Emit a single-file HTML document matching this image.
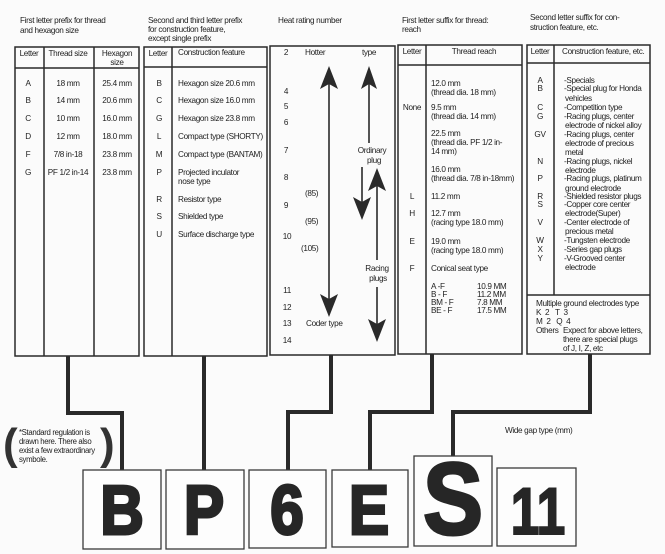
<!DOCTYPE html>
<html><head><meta charset="utf-8"><style>
html,body{margin:0;padding:0;background:#fbfbfb;}
svg{display:block;}
text{font-family:"Liberation Sans",sans-serif;font-size:8.2px;fill:#222;letter-spacing:-0.35px;}
.c{text-anchor:middle;}
.big{font-weight:bold;font-size:71px;fill:#262626;text-anchor:middle;stroke:#262626;stroke-width:3;letter-spacing:0;}
</style></head><body>
<svg width="665" height="554" viewBox="0 0 665 554" xmlns="http://www.w3.org/2000/svg">
<rect width="665" height="554" fill="#fbfbfb"/>
<g fill="none" stroke="#2a2a2a" stroke-width="1.5">
<rect x="15" y="47" width="124" height="309"/>
<line x1="15" y1="68" x2="139" y2="68"/><line x1="44" y1="47" x2="44" y2="356"/><line x1="94" y1="47" x2="94" y2="356"/>
<rect x="144" y="47" width="123" height="309"/>
<line x1="144" y1="67" x2="267" y2="67"/><line x1="172" y1="47" x2="172" y2="356"/>
<rect x="270" y="46" width="125" height="309"/>
<rect x="398" y="45" width="124" height="309"/>
<line x1="398" y1="65" x2="522" y2="65"/><line x1="426" y1="45" x2="426" y2="354"/>
<rect x="527" y="45" width="123" height="309"/>
<line x1="527" y1="63" x2="650" y2="63"/><line x1="554" y1="45" x2="554" y2="295"/><line x1="527" y1="295" x2="650" y2="295"/>
</g>
<g fill="none" stroke="#2a2a2a" stroke-width="4">
<polyline points="68,356 68,413 122,413 122,470"/>
<polyline points="204,356 204,470"/>
<polyline points="331,355 331,412 288,412 288,470"/>
<polyline points="432,354 432,412 370,412 370,470"/>
<polyline points="590,354 590,412 453,412 453,457"/>
</g>
<g fill="#fdfdfd" stroke="#3a3a3a" stroke-width="1.3">
<rect x="83" y="470" width="78" height="79"/>
<rect x="166" y="470" width="78" height="79"/>
<rect x="249" y="470" width="77" height="78"/>
<rect x="332" y="470" width="76" height="77"/>
<rect x="414" y="456" width="78" height="90"/>
<rect x="497" y="468" width="79" height="78"/>
</g>
<text class="big" transform="translate(122,534) scale(0.85,0.98)">B</text>
<text class="big" transform="translate(204,534) scale(0.85,0.98)">P</text>
<text class="big" transform="translate(287,534) scale(0.85,0.98)">6</text>
<text class="big" transform="translate(369,534) scale(0.85,0.98)">E</text>
<text class="big" style="font-size:102px" transform="translate(453,534) scale(0.88,1)">S</text>
<text class="big" style="font-size:66px;stroke-width:2" transform="translate(538,534) scale(0.78,1)">11</text>
<text x="3" y="459" style="font-size:44px;font-weight:bold;fill:#333;letter-spacing:0">(</text>
<text x="100" y="459" style="font-size:44px;font-weight:bold;fill:#333;letter-spacing:0">)</text>
<text x="19" y="435" style="font-size:7.8px">*Standard regulation is</text>
<text x="19" y="444" style="font-size:7.8px">drawn here. There also</text>
<text x="19" y="453" style="font-size:7.8px">exist a few extraordinary</text>
<text x="19" y="462" style="font-size:7.8px">symbole.</text>
<text x="505" y="433">Wide gap type (mm)</text>
<text x="20" y="23">First letter prefix for thread</text>
<text x="20" y="33">and hexagon size</text>
<text x="148" y="23">Second and third letter prefix</text>
<text x="148" y="32">for construction feature,</text>
<text x="148" y="41">except single prefix</text>
<text x="278" y="23">Heat rating number</text>
<text x="402" y="23">First letter suffix for thread:</text>
<text x="402" y="32">reach</text>
<text x="530" y="20">Second letter suffix for con-</text>
<text x="530" y="30">struction feature, etc.</text>
<text class="c" x="29" y="56">Letter</text><text class="c" x="68" y="56">Thread size</text>
<text class="c" x="117" y="56">Hexagon</text><text class="c" x="117" y="65">size</text>
<text class="c" x="28" y="86">A</text><text class="c" x="68" y="86">18 mm</text><text class="c" x="117" y="86">25.4 mm</text>
<text class="c" x="28" y="103">B</text><text class="c" x="68" y="103">14 mm</text><text class="c" x="117" y="103">20.6 mm</text>
<text class="c" x="28" y="121">C</text><text class="c" x="68" y="121">10 mm</text><text class="c" x="117" y="121">16.0 mm</text>
<text class="c" x="28" y="139">D</text><text class="c" x="68" y="139">12 mm</text><text class="c" x="117" y="139">18.0 mm</text>
<text class="c" x="28" y="157">F</text><text class="c" x="68" y="157">7/8 in-18</text><text class="c" x="117" y="157">23.8 mm</text>
<text class="c" x="28" y="175">G</text><text class="c" x="68" y="175">PF 1/2 in-14</text><text class="c" x="117" y="175">23.8 mm</text>
<text class="c" x="158" y="56">Letter</text><text x="178" y="55">Construction feature</text>
<text class="c" x="159" y="86">B</text><text x="178" y="86">Hexagon size 20.6 mm</text>
<text class="c" x="159" y="103">C</text><text x="178" y="103">Hexagon size 16.0 mm</text>
<text class="c" x="159" y="121">G</text><text x="178" y="121">Hexagon size 23.8 mm</text>
<text class="c" x="159" y="139">L</text><text x="178" y="139">Compact type (SHORTY)</text>
<text class="c" x="159" y="157">M</text><text x="178" y="157">Compact type (BANTAM)</text>
<text class="c" x="159" y="175">P</text><text x="178" y="175">Projected inculator</text><text x="178" y="184">nose type</text>
<text class="c" x="159" y="202">R</text><text x="178" y="202">Resistor type</text>
<text class="c" x="159" y="219">S</text><text x="178" y="219">Shielded type</text>
<text class="c" x="159" y="237">U</text><text x="178" y="237">Surface discharge type</text>
<text class="c" x="286" y="55">2</text><text x="305" y="55">Hotter</text><text x="362" y="55">type</text>
<text class="c" x="286" y="94">4</text><text class="c" x="286" y="109">5</text><text class="c" x="286" y="125">6</text>
<text class="c" x="286" y="153">7</text><text class="c" x="286" y="180">8</text><text class="c" x="286" y="208">9</text>
<text class="c" x="287" y="239">10</text><text class="c" x="287" y="293">11</text><text class="c" x="287" y="310">12</text>
<text class="c" x="287" y="326">13</text><text class="c" x="287" y="343">14</text>
<text x="305" y="196">(85)</text><text x="305" y="224">(95)</text><text x="301" y="251">(105)</text>
<text x="306" y="326">Coder type</text>
<text class="c" x="372" y="153">Ordinary</text><text class="c" x="374" y="163">plug</text>
<text class="c" x="377" y="271">Racing</text><text class="c" x="378" y="281">plugs</text>
<g stroke="#2a2a2a" stroke-width="1.6">
<line x1="329" y1="80" x2="329" y2="303"/>
<line x1="369" y1="80" x2="369" y2="143"/>
<line x1="362" y1="167" x2="362" y2="206"/>
<line x1="377" y1="182" x2="377" y2="260"/>
<line x1="377" y1="287" x2="377" y2="328"/>
</g>
<g fill="#2a2a2a">
<polygon points="329,66 320,89 329,84 338,89"/>
<polygon points="329,317 320,294 329,299 338,294"/>
<polygon points="369,66 361,89 369,84 377,89"/>
<polygon points="362,220 353,197 362,202 371,197"/>
<polygon points="377,168 368,191 377,186 386,191"/>
<polygon points="377,342 368,319 377,324 386,319"/>
</g>
<text class="c" x="412" y="54">Letter</text><text class="c" x="474" y="54">Thread reach</text>
<text x="431" y="86">12.0 mm</text><text x="431" y="95">(thread dia. 18 mm)</text>
<text class="c" x="412" y="110">None</text>
<text x="431" y="110">9.5 mm</text><text x="431" y="119">(thread dia. 14 mm)</text>
<text x="431" y="136">22.5 mm</text><text x="431" y="145">(thread dia. PF 1/2 in-</text><text x="431" y="154">14 mm)</text>
<text x="431" y="172">16.0 mm</text><text x="431" y="181">(thread dia. 7/8 in-18mm)</text>
<text class="c" x="412" y="199">L</text><text x="431" y="199">11.2 mm</text>
<text class="c" x="412" y="216">H</text><text x="431" y="216">12.7 mm</text><text x="431" y="225">(racing type 18.0 mm)</text>
<text class="c" x="412" y="244">E</text><text x="431" y="244">19.0 mm</text><text x="431" y="253">(racing type 18.0 mm)</text>
<text class="c" x="412" y="271">F</text><text x="431" y="271">Conical seat type</text>
<text x="431" y="289">A -F</text><text x="477" y="289">10.9 MM</text>
<text x="431" y="297">B - F</text><text x="477" y="297">11.2 MM</text>
<text x="431" y="305">BM - F</text><text x="477" y="305">7.8 MM</text>
<text x="431" y="313">BE - F</text><text x="477" y="313">17.5 MM</text>
<text class="c" x="540" y="54">Letter</text><text x="562" y="54">Construction feature, etc.</text>
<text class="c" x="540" y="83">A</text><text x="564" y="83">-Specials</text>
<text class="c" x="540" y="91">B</text><text x="564" y="91">-Special plug for Honda</text>
<text x="565" y="101">vehicles</text>
<text class="c" x="540" y="110">C</text><text x="564" y="110">-Competition type</text>
<text class="c" x="540" y="119">G</text><text x="564" y="119">-Racing plugs, center</text>
<text x="565" y="128">electrode of nickel alloy</text>
<text class="c" x="540" y="137">GV</text><text x="564" y="137">-Racing plugs, center</text>
<text x="565" y="146">electrode of precious</text>
<text x="565" y="155">metal</text>
<text class="c" x="540" y="164">N</text><text x="564" y="164">-Racing plugs, nickel</text>
<text x="565" y="173">electrode</text>
<text class="c" x="540" y="181">P</text><text x="564" y="181">-Racing plugs, platinum</text>
<text x="565" y="191">ground electrode</text>
<text class="c" x="540" y="199">R</text><text x="564" y="199">-Shielded resistor plugs</text>
<text class="c" x="540" y="207">S</text><text x="564" y="207">-Copper core center</text>
<text x="565" y="216">electrode(Super)</text>
<text class="c" x="540" y="225">V</text><text x="564" y="225">-Center electrode of</text>
<text x="565" y="234">precious metal</text>
<text class="c" x="540" y="243">W</text><text x="564" y="243">-Tungsten electrode</text>
<text class="c" x="540" y="252">X</text><text x="564" y="252">-Series gap plugs</text>
<text class="c" x="540" y="261">Y</text><text x="564" y="261">-V-Grooved center</text>
<text x="565" y="270">electrode</text>
<text x="536" y="306">Multiple ground electrodes type</text>
<text x="536" y="315">K&#160;&#160;2&#160;&#160;&#160;T&#160;&#160;3</text>
<text x="536" y="324">M&#160;&#160;2&#160;&#160;&#160;Q&#160;&#160;4</text>
<text x="536" y="333">Others</text><text x="563" y="333">Expect for above letters,</text>
<text x="563" y="342">there are special plugs</text>
<text x="563" y="351">of J, I, Z, etc</text>
</svg>
</body></html>
